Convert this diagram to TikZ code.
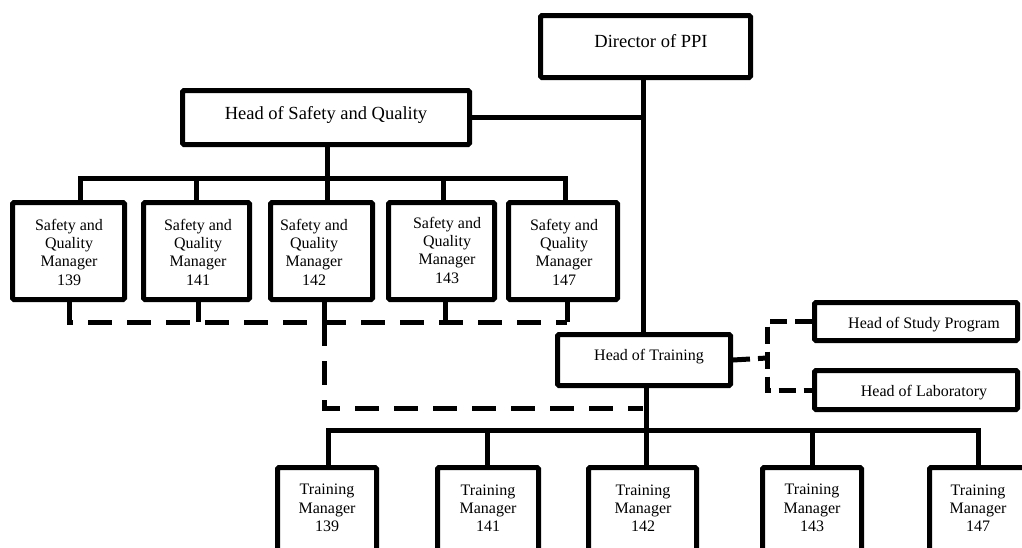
\documentclass[tikz,border=0pt]{standalone}
\usepackage{fontspec}
\setmainfont{Liberation Serif}
\usetikzlibrary{calc}
\begin{document}
\begin{tikzpicture}[x=1pt,y=-1pt,
  box/.style={draw, line width=5pt, rounded corners=1.5pt, inner sep=0pt},
  conn/.style={line width=5pt},
  dconn/.style={line width=5pt, dash pattern=on 24pt off 15pt},
  dsconn/.style={line width=5pt, dash pattern=on 17pt off 8pt},
  small/.style={font=\fontsize{16}{18.3}\selectfont, align=center, inner sep=0pt},
  big/.style={font=\fontsize{18.5}{21}\selectfont, inner sep=0pt}]
\useasboundingbox (0,0) rectangle (1022,547);
\clip (0,0) rectangle (1022,547);
% boxes
\node[box, minimum width=210pt, minimum height=62pt] (dir) at (645.5,46.5) {};
\node[big] (dirT) at (651,41) {Director of PPI};
\node[box, minimum width=287pt, minimum height=54pt] (hsq) at (326,117.5) {};
\node[big] (hsqT) at (326,115) {Head of Safety and Quality};
\node[box, minimum width=112pt, minimum height=97pt] (s1) at (68.5,251) {};
\node[box, minimum width=106pt, minimum height=97pt] (s2) at (196.5,251) {};
\node[box, minimum width=102pt, minimum height=97pt] (s3) at (321.5,251) {};
\node[box, minimum width=106pt, minimum height=97pt] (s4) at (441.5,251) {};
\node[box, minimum width=109pt, minimum height=97pt] (s5) at (563,251) {};
\node[small] (s1T) at (69,252) {Safety and\\Quality\\Manager\\139};
\node[small] (s2T) at (198,252) {Safety and\\Quality\\Manager\\141};
\node[small] (s3T) at (314,252) {Safety and\\Quality\\Manager\\142};
\node[small] (s4T) at (447,250) {Safety and\\Quality\\Manager\\143};
\node[small] (s5T) at (564,252) {Safety and\\Quality\\Manager\\147};
\node[box, minimum width=173pt, minimum height=51pt] (hot) at (644,360) {};
\node[small] (hotT) at (649,357) {Head of Training};
\node[box, minimum width=203pt, minimum height=38pt] (hsp) at (916,321.5) {};
\node[small] (hspT) at (924,325) {Head of Study Program};
\node[box, minimum width=203pt, minimum height=39pt] (hl) at (916,390) {};
\node[small] (hlT) at (924,393) {Head of Laboratory};
\node[box, minimum width=99pt, minimum height=120pt] (t1) at (327,527.5) {};
\node[box, minimum width=101pt, minimum height=120pt] (t2) at (488,527.5) {};
\node[box, minimum width=108pt, minimum height=120pt] (t3) at (642.5,527.5) {};
\node[box, minimum width=99pt, minimum height=120pt] (t4) at (812,527.5) {};
\node[box, minimum width=97pt, minimum height=120pt] (t5) at (978,527.5) {};
\node[small] (t1T) at (327,508) {Training\\Manager\\139};
\node[small] (t2T) at (488,508) {Training\\Manager\\141};
\node[small] (t3T) at (643,508) {Training\\Manager\\142};
\node[small] (t4T) at (812,508) {Training\\Manager\\143};
\node[small] (t5T) at (978,508) {Training\\Manager\\147};
% coordinates
\coordinate (sp) at (643,0);
\coordinate (bus) at (0,178);
\coordinate (sa1) at (80,178);
\coordinate (sa2) at (196,178);
\coordinate (sa3) at (327,178);
\coordinate (sa4) at (443,178);
\coordinate (sa5) at (565,178);
\coordinate (da1) at (69,322);
\coordinate (da2) at (198,322);
\coordinate (da3) at (324,322);
\coordinate (da4) at (445,322);
\coordinate (da5) at (567,322);
\coordinate (dc) at (324,408);
\coordinate (de) at (643,408);
\coordinate (tb1) at (328,430);
\coordinate (tb2) at (487,430);
\coordinate (tb3) at (646,430);
\coordinate (tb4) at (812,430);
\coordinate (tb5) at (978,430);
\coordinate (br) at (767,358);
% connectors
\draw[conn] (dir.south -| sp) -- (hot.north -| sp);
\draw[conn] (hsq.east) -- (hsq.east -| sp);
\draw[conn] (hsq.south -| sa3) -- (sa3);
\draw[conn] (s1.north -| sa1) -- (sa1) -- (sa5) -- (s5.north -| sa5);
\draw[conn] (s2.north -| sa2) -- (sa2);
\draw[conn] (s3.north -| sa3) -- (sa3);
\draw[conn] (s4.north -| sa4) -- (sa4);
\draw[dconn] (s1.south -| da1) -- (da1) -- (da5);
\draw[conn] (s2.south -| da2) -- (da2);
\draw[conn] (s3.south -| da3) -- (da3);
\draw[conn] (s4.south -| da4) -- (da4);
\draw[conn] (s5.south -| da5) -- (da5);
\draw[dconn] (da3) -- (dc) -- (de);
\draw[conn] (hot.south -| tb3) -- (tb3);
\draw[conn] (t1.north -| tb1) -- (tb1) -- (tb5) -- (t5.north -| tb5);
\draw[conn] (tb2) -- (t2.north -| tb2);
\draw[conn] (tb3) -- (t3.north -| tb3);
\draw[conn] (tb4) -- (t4.north -| tb4);
\draw[dsconn] (hot.east) -- (br);
\draw[dsconn] (hsp.west) -| (br) |- (hl.west);
\end{tikzpicture}
\end{document}
